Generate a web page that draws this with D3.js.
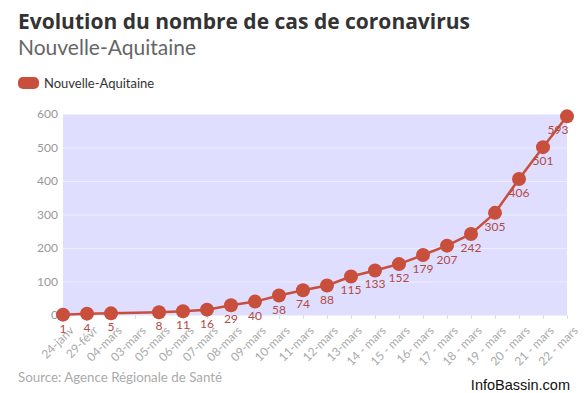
<!DOCTYPE html>
<html><head><meta charset="utf-8">
<script src="https://cdn.jsdelivr.net/npm/d3@7"></script>
<style>body{margin:0;background:#fff}svg{display:block}</style>
</head><body><svg id="c" width="587" height="393"></svg>
<script>
const categories = ["24-janv","29-févr","04-mars","03-mars","05-mars","06-mars","07-mars","08-mars","09-mars","10-mars","11-mars","12-mars","13-mars","14 - mars","15 - mars","16- mars","17 - mars","18 - mars","19 - mars","20 - mars","21 - mars","22 - mars"];
const values = [1,4,5,null,8,11,16,29,40,58,74,88,115,133,152,179,207,242,305,406,501,593];
const yTicks = [0,100,200,300,400,500,600];
const seriesName = "Nouvelle-Aquitaine";

const svg = d3.select("#c");
const font = "Lato, 'Open Sans', sans-serif";
const red = "#c94f3d";
const L=63, R=567, T=114, B=315;
const x = d3.scalePoint().domain(categories).range([L,R]).padding(0);
const y = d3.scaleLinear().domain([0,600]).range([B,T]);

svg.append("text").attr("x",18).attr("y",29).attr("font-family","'Open Sans', sans-serif").attr("font-weight","bold")
  .attr("font-size",21).attr("fill","#333").text("Evolution du nombre de cas de coronavirus");
svg.append("text").attr("x",18).attr("y",55).attr("font-family",font)
  .attr("font-size",21).attr("fill","#666").text("Nouvelle-Aquitaine");
svg.append("rect").attr("x",18).attr("y",77).attr("width",21).attr("height",12).attr("rx",5).attr("fill",red);
svg.append("text").attr("x",44).attr("y",88).attr("font-family",font).attr("font-size",13).attr("fill","#333").text(seriesName);

svg.append("rect").attr("x",L).attr("y",T).attr("width",R-L).attr("height",B-T).attr("fill","#e0deff");

const ya = svg.append("g").attr("transform",`translate(${L},0)`)
  .call(d3.axisLeft(y).tickValues(yTicks).tickSize(-(R-L)).tickPadding(5));
ya.select(".domain").remove();
ya.selectAll("line").attr("stroke","#eeeeff").attr("stroke-width",1);
ya.selectAll("text").attr("font-family",font).attr("font-size",12).attr("fill","#999");

const xa = svg.append("g").attr("transform",`translate(0,${B})`)
  .call(d3.axisBottom(x).tickSize(4).tickPadding(2));
xa.select(".domain").remove();
xa.selectAll("line").attr("stroke","#ddd");
xa.selectAll("text").attr("font-family",font).attr("font-size",12).attr("fill","#aaa")
  .attr("text-anchor","end").attr("dy","0.35em")
  .attr("transform","translate(4,9) rotate(-45)");

const pts = categories.map((c,i)=>({c,v:values[i]}));
const line = d3.line().defined(d=>d.v!=null).x(d=>x(d.c)).y(d=>y(d.v));
const lineData = pts.filter(d=>d.v!=null);
svg.append("path").datum(lineData).attr("d",line).attr("fill","none").attr("stroke",red).attr("stroke-width",2.5);
svg.append("g").selectAll("circle").data(lineData).join("circle")
  .attr("cx",d=>x(d.c)).attr("cy",d=>y(d.v)).attr("r",7).attr("fill",red);
svg.append("g").selectAll("text").data(lineData).join("text")
  .attr("x",d=>Math.min(x(d.c), R-9)).attr("y",d=>y(d.v)+18)
  .attr("text-anchor","middle").attr("font-family",font).attr("font-size",12).attr("fill","#b04a45")
  .text(d=>d.v);

svg.append("text").attr("x",18).attr("y",382).attr("font-family",font).attr("font-size",13.3).attr("fill","#aaa")
  .text("Source: Agence Régionale de Santé");
svg.append("text").attr("x",570).attr("y",390).attr("text-anchor","end").attr("font-family","'Liberation Sans', Arial, sans-serif")
  .attr("font-size",14.5).attr("fill","#111").text("InfoBassin.com");
</script></body></html>
